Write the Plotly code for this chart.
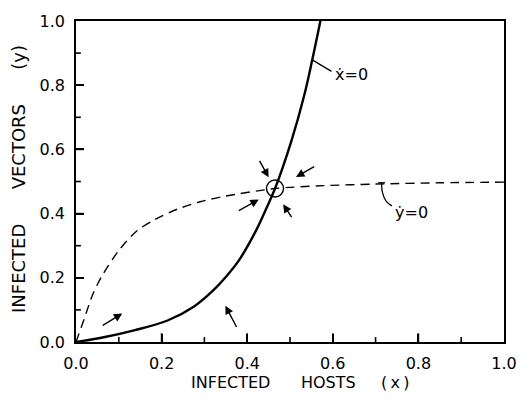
import plotly.graph_objects as go

# x-nullcline (solid)
x_null_x = [0, 0.062, 0.138, 0.214, 0.275, 0.320, 0.351, 0.381, 0.419, 0.446, 0.465, 0.503, 0.533, 0.552, 0.571]
x_null_y = [0, 0.014, 0.037, 0.067, 0.110, 0.160, 0.204, 0.255, 0.343, 0.420, 0.478, 0.625, 0.767, 0.879, 1.0]

# y-nullcline (dashed)
y_null_x = [0, 0.0205, 0.039, 0.062, 0.100, 0.142, 0.184, 0.237, 0.290, 0.343, 0.465, 0.579, 0.70, 0.85, 1.0]
y_null_y = [0, 0.077, 0.148, 0.209, 0.285, 0.346, 0.381, 0.414, 0.437, 0.453, 0.478, 0.487, 0.492, 0.496, 0.498]

# equilibrium point
eq_x = [0.465]
eq_y = [0.478]

# direction arrows: (tail_x, tail_y, head_x, head_y)
arrow_tail_x = [0.427, 0.560, 0.377, 0.506, 0.059, 0.377]
arrow_tail_y = [0.569, 0.549, 0.407, 0.384, 0.049, 0.042]
arrow_head_x = [0.450, 0.514, 0.427, 0.484, 0.108, 0.349]
arrow_head_y = [0.513, 0.514, 0.444, 0.429, 0.089, 0.113]

# nullcline label leaders
xdot_leader_x = [0.552, 0.597]
xdot_leader_y = [0.879, 0.843]
ydot_leader_x = [0.706, 0.722, 0.714, 0.716, 0.724, 0.738]
ydot_leader_y = [0.496, 0.496, 0.496, 0.466, 0.440, 0.424]

tick_vals = [0, 0.2, 0.4, 0.6, 0.8, 1.0]
tick_text = ["0.0", "0.2", "0.4", "0.6", "0.8", "1.0"]
minor_vals = [0.1, 0.3, 0.5, 0.7, 0.9]

FONT = "DejaVu Sans"

# plot-area size in pixels (for converting tick lengths to axis units)
PLOT_W = 529 - 76 - 14
PLOT_H = 400 - 14 - 58

fig = go.Figure()
fig.add_trace(go.Scatter(x=y_null_x, y=y_null_y, mode="lines", line_shape="spline",
                         line=dict(color="black", width=1.4, dash="9px,6px", smoothing=0.8), hoverinfo="skip"))
fig.add_trace(go.Scatter(x=x_null_x, y=x_null_y, mode="lines", line_shape="spline",
                         line=dict(color="black", width=2.4, smoothing=1.0), hoverinfo="skip"))
fig.add_trace(go.Scatter(x=xdot_leader_x, y=xdot_leader_y, mode="lines",
                         line=dict(color="black", width=1.3), hoverinfo="skip"))
fig.add_trace(go.Scatter(x=ydot_leader_x[:2], y=ydot_leader_y[:2], mode="lines",
                         line=dict(color="black", width=1.3), hoverinfo="skip"))
fig.add_trace(go.Scatter(x=ydot_leader_x[2:], y=ydot_leader_y[2:], mode="lines", line_shape="spline",
                         line=dict(color="black", width=1.3), hoverinfo="skip"))
fig.add_trace(go.Scatter(x=eq_x, y=eq_y, mode="markers",
                         marker=dict(symbol="circle-open", size=17, color="black",
                                     line=dict(width=1.4, color="black")), hoverinfo="skip"))

# inward tick marks as layout shapes anchored to the axis scales
shapes = []
for vals, length in ((tick_vals[1:-1], 9), (minor_vals, 5)):
    for v in vals:
        shapes.append(dict(type="line", xref="x", yref="y", x0=v, x1=v, y0=0, y1=length / PLOT_H,
                           line=dict(color="black", width=1.6), layer="above"))
for vals, length in ((tick_vals[1:-1], 8), (minor_vals, 5)):
    for v in vals:
        shapes.append(dict(type="line", xref="x", yref="y", x0=0, x1=length / PLOT_W, y0=v, y1=v,
                           line=dict(color="black", width=1.6), layer="above"))

annotations = []
for tx, ty, hx, hy in zip(arrow_tail_x, arrow_tail_y, arrow_head_x, arrow_head_y):
    annotations.append(dict(x=hx, y=hy, ax=tx, ay=ty, xref="x", yref="y", axref="x", ayref="y",
                            text="", showarrow=True, arrowhead=2, arrowsize=1.2, arrowwidth=1.4,
                            arrowcolor="black"))

annotations.append(dict(x=0.601, y=0.834, xref="x", yref="y", text="ẋ=0", showarrow=False,
                        xanchor="left", yanchor="middle", font=dict(family=FONT, size=16, color="black")))
annotations.append(dict(x=0.741, y=0.404, xref="x", yref="y", text="ẏ=0", showarrow=False,
                        xanchor="left", yanchor="middle", font=dict(family=FONT, size=16, color="black")))

nb = "\u00a0"
annotations.append(dict(x=0.5, y=0, xref="paper", yref="paper", yshift=-40, xshift=10,
                        text="INFECTED" + nb * 6 + "HOSTS" + nb * 5 + "(\u2009x\u2009)",
                        showarrow=False, xanchor="center", yanchor="middle",
                        font=dict(family=FONT, size=16, color="black")))
annotations.append(dict(x=0, y=0.5, xref="paper", yref="paper", xshift=-57.5, yshift=2,
                        text="INFECTED" + nb * 6 + "VECTORS" + nb * 6 + "(y)",
                        showarrow=False, xanchor="center", yanchor="middle", textangle=-90,
                        font=dict(family=FONT, size=18, color="black")))

axis_common = dict(range=[0, 1], tickmode="array", tickvals=tick_vals, ticktext=tick_text,
                   ticks="inside", ticklen=8, tickwidth=1.5, tickcolor="black",
                   showline=True, linecolor="black", ticklabelstandoff=6,
                   linewidth=1.6, mirror=True, showgrid=False, zeroline=False,
                   tickfont=dict(family=FONT, size=16, color="black"))

fig.update_layout(
    width=529, height=400,
    margin=dict(l=76, r=14, t=14, b=58),
    paper_bgcolor="white", plot_bgcolor="white",
    showlegend=False,
    xaxis=dict(axis_common),
    yaxis=dict(axis_common),
    annotations=annotations,
    shapes=shapes,
)

fig.write_html("out.html")
